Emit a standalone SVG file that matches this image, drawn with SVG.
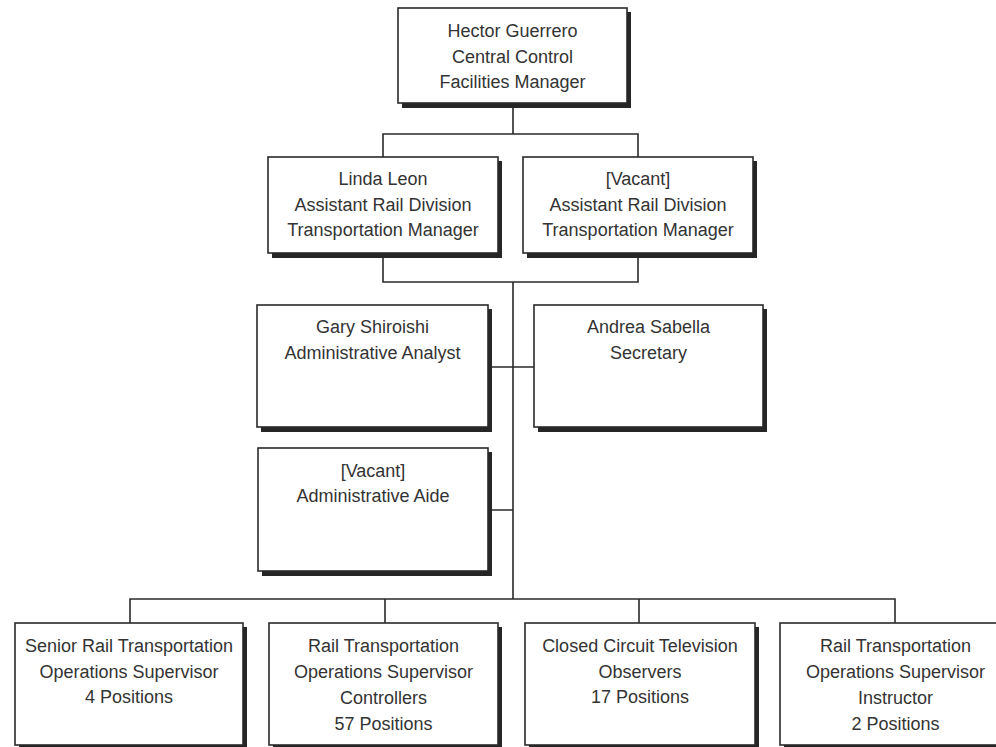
<svg xmlns="http://www.w3.org/2000/svg" width="996" height="747" viewBox="0 0 996 747">
<style>
.sh{fill:#262626}
.bx{fill:#fff;stroke:#2a2a2a;stroke-width:1.6}
.t{font-family:"Liberation Sans",Arial,sans-serif;font-size:18px;fill:#333;text-anchor:middle}
.c{fill:none;stroke:#2a2a2a;stroke-width:1.6}
</style>
<rect width="996" height="747" fill="#fff"/>
<g id="connectors">
<path class="c" d="M513,103V134M383,157V134H638V157"/>
<path class="c" d="M383,253V282H638V253M513,282V599"/>
<path class="c" d="M488,367H534M488,510H513"/>
<path class="c" d="M130,623V599H895V623M385,599V623M639,599V623"/>
</g>
<g id="n-hector">
<rect class="sh" x="402" y="12" width="229" height="96"/>
<rect class="bx" x="398" y="8" width="229" height="95"/>
<text class="t" x="512.5" y="37">Hector Guerrero</text>
<text class="t" x="512.5" y="63">Central Control</text>
<text class="t" x="512.5" y="88">Facilities Manager</text>
</g>
<g id="n-linda">
<rect class="sh" x="272" y="161" width="230" height="97"/>
<rect class="bx" x="268" y="157" width="230" height="96"/>
<text class="t" x="383" y="185">Linda Leon</text>
<text class="t" x="383" y="211">Assistant Rail Division</text>
<text class="t" x="383" y="236">Transportation Manager</text>
</g>
<g id="n-vacant-artm">
<rect class="sh" x="527" y="161" width="230" height="97"/>
<rect class="bx" x="523" y="157" width="230" height="96"/>
<text class="t" x="638" y="185">[Vacant]</text>
<text class="t" x="638" y="211">Assistant Rail Division</text>
<text class="t" x="638" y="236">Transportation Manager</text>
</g>
<g id="n-gary">
<rect class="sh" x="261" y="309" width="231" height="123"/>
<rect class="bx" x="257" y="305" width="231" height="122"/>
<text class="t" x="372.5" y="333">Gary Shiroishi</text>
<text class="t" x="372.5" y="359">Administrative Analyst</text>
</g>
<g id="n-andrea">
<rect class="sh" x="538" y="309" width="229" height="123"/>
<rect class="bx" x="534" y="305" width="229" height="122"/>
<text class="t" x="648.5" y="333">Andrea Sabella</text>
<text class="t" x="648.5" y="359">Secretary</text>
</g>
<g id="n-aide">
<rect class="sh" x="262" y="452" width="230" height="124"/>
<rect class="bx" x="258" y="448" width="230" height="123"/>
<text class="t" x="373" y="477">[Vacant]</text>
<text class="t" x="373" y="502">Administrative Aide</text>
</g>
<g id="n-senior">
<rect class="sh" x="19" y="627" width="228" height="122"/>
<rect class="bx" x="15" y="623" width="228" height="122"/>
<text class="t" x="129" y="652">Senior Rail Transportation</text>
<text class="t" x="129" y="678">Operations Supervisor</text>
<text class="t" x="129" y="703">4 Positions</text>
</g>
<g id="n-controllers">
<rect class="sh" x="273" y="627" width="229" height="122"/>
<rect class="bx" x="269" y="623" width="229" height="122"/>
<text class="t" x="383.5" y="652">Rail Transportation</text>
<text class="t" x="383.5" y="678">Operations Supervisor</text>
<text class="t" x="383.5" y="704">Controllers</text>
<text class="t" x="383.5" y="730">57 Positions</text>
</g>
<g id="n-cctv">
<rect class="sh" x="529" y="627" width="230" height="122"/>
<rect class="bx" x="525" y="623" width="230" height="122"/>
<text class="t" x="640" y="652">Closed Circuit Television</text>
<text class="t" x="640" y="678">Observers</text>
<text class="t" x="640" y="703">17 Positions</text>
</g>
<g id="n-instructor">
<rect class="sh" x="784" y="627" width="231" height="122"/>
<rect class="bx" x="780" y="623" width="231" height="122"/>
<text class="t" x="895.5" y="652">Rail Transportation</text>
<text class="t" x="895.5" y="678">Operations Supervisor</text>
<text class="t" x="895.5" y="704">Instructor</text>
<text class="t" x="895.5" y="730">2 Positions</text>
</g>
</svg>
